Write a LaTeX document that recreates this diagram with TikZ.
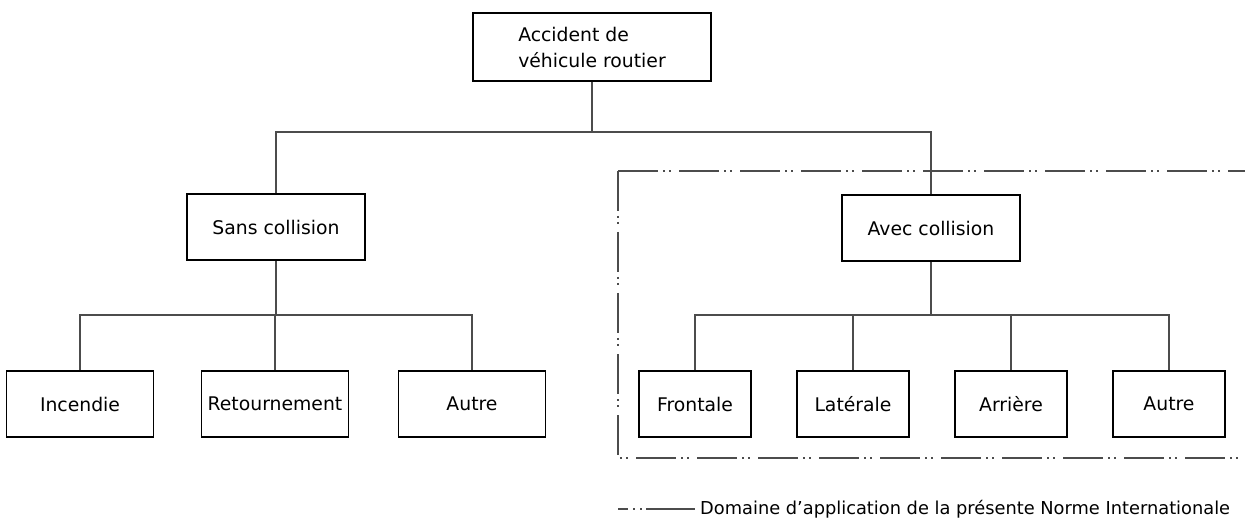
\documentclass[tikz,border=0pt]{standalone}
\usepackage{fontspec}
\setmainfont{DejaVu Sans}
\begin{document}
\begin{tikzpicture}[x=1pt,y=-1pt,
  font=\fontsize{18.8}{26}\selectfont,
  box/.style={draw=black,line width=1.6pt,minimum height=66pt,inner sep=0pt},
  wide/.style={box,minimum width=178pt},
  leaf/.style={box,minimum width=147pt},
  rleaf/.style={box,minimum width=112pt},
  conn/.style={draw=black!70,line width=1.2pt},
  scope/.style={draw=black!70,line width=1.2pt,dash pattern=on 40pt off 5pt on 2pt off 4pt on 2pt off 8pt}
]
\useasboundingbox (0,0) rectangle (1245,521);
\node[box,minimum width=238pt,minimum height=68pt,align=left] (top) at (592,47) {Accident de\\véhicule routier};
\node[wide] (sans) at (276,227) {Sans collision};
\node[wide] (avec) at (931,228) {Avec collision};
\node[leaf] (inc) at (80,404) {Incendie};
\node[leaf] (ret) at (275,404) {Retournement};
\node[leaf] (aut1) at (472,404) {Autre};
\node[rleaf] (fro) at (695,404) {Frontale};
\node[rleaf] (lat) at (853,404) {Latérale};
\node[rleaf] (arr) at (1011,404) {Arrière};
\node[rleaf] (aut2) at (1169,404) {Autre};
\coordinate (j1) at (592,132);
\coordinate (j2) at (276,315);
\coordinate (j3) at (931,315);
\draw[conn] (top.south) -- (j1);
\draw[conn] (sans.north) |- (j1) -| (avec.north);
\draw[conn] (sans.south) -- (j2);
\draw[conn] (inc.north) |- (j2) -| (aut1.north);
\draw[conn] (ret.north) -- (ret.north |- j2);
\draw[conn] (avec.south) -- (j3);
\draw[conn] (fro.north) |- (j3) -| (aut2.north);
\draw[conn] (lat.north) -- (lat.north |- j3);
\draw[conn] (arr.north) -- (arr.north |- j3);
\coordinate (c1) at (618,171);
\coordinate (c2) at (618,458);
\coordinate (e1) at (1245,171);
\coordinate (e2) at (1245,458);
\draw[scope] (c1) -- (e1);
\draw[scope] (c1) -- (c2) -- (e2);
\coordinate (l1) at (618,509);
\coordinate (l2) at (628,509);
\coordinate (d1a) at (633,509);
\coordinate (d1b) at (635,509);
\coordinate (d2a) at (640,509);
\coordinate (d2b) at (642,509);
\coordinate (l3) at (646,509);
\coordinate (l4) at (695,509);
\draw[conn] (l1) -- (l2);
\draw[conn] (d1a) -- (d1b);
\draw[conn] (d2a) -- (d2b);
\draw[conn] (l3) -- (l4);
\node[anchor=west,inner sep=0pt,font=\fontsize{17.8}{22}\selectfont] (leg) at (700,509) {Domaine d’application de la présente Norme Internationale};
\end{tikzpicture}
\end{document}
